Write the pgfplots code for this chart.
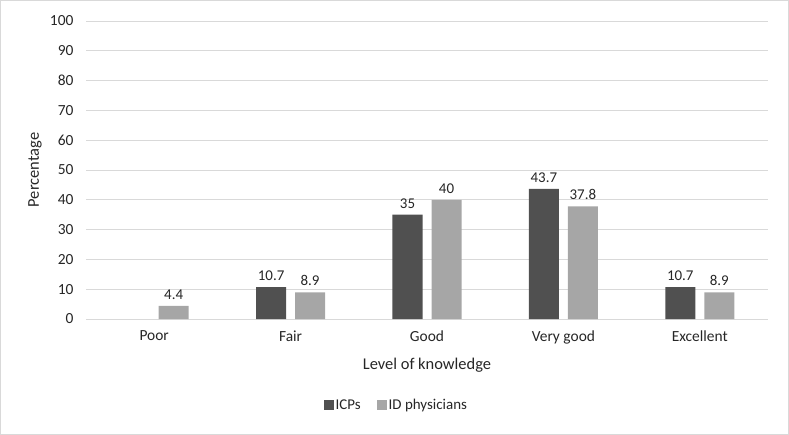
\documentclass[border=0pt]{standalone}
\usepackage{pgfplots}
\pgfplotsset{compat=1.18}
\usepackage{fontspec}
\setmainfont{Carlito}
\definecolor{darkbar}{HTML}{505050}
\definecolor{lightbar}{HTML}{A6A6A6}
\definecolor{gridc}{HTML}{D9D9D9}
\definecolor{txt}{HTML}{262626}
\begin{document}
\begin{tikzpicture}
\path[use as bounding box] (0bp,0bp) rectangle (789bp,435bp);
\draw[gridc, line width=1.2bp] (0.8bp,0.8bp) rectangle (788.2bp,434.2bp);
\begin{axis}[
  at={(86bp,116bp)}, anchor=south west,
  scale only axis, width=682bp, height=298bp,
  xmin=-0.5, xmax=4.5, ymin=0, ymax=100,
  ybar, bar width=0.22, 
  xtick={0,1,2,3,4},
  xticklabels={Poor,Fair,Good,Very good,Excellent},
  ytick={0,10,...,100},
  ymajorgrids, grid style={gridc, line width=0.9bp},
  axis line style={draw=none},
  major tick length=0,
  tick label style={font=\fontsize{15.5}{18}\selectfont, text=txt},
  /pgf/number format/assume math mode=true,
  yticklabel style={xshift=-9bp},
  xticklabel style={yshift=-8bp},
  xlabel={Level of knowledge},
  ylabel={Percentage},
  label style={font=\fontsize{16.5}{19}\selectfont, text=txt},
  xlabel style={at={(axis description cs:0.5,0)}, anchor=center, yshift=-46bp},
  ylabel style={at={(axis description cs:-0.0748,0.5)}, anchor=center},
  nodes near coords,
  every node near coord/.append style={font=\fontsize{15}{18}\selectfont, text=txt, yshift=3bp},
  legend style={at={(axis description cs:0.455,-0.29)}, anchor=center, draw=none, legend columns=2,
    font=\fontsize{15}{18}\selectfont, text=txt, /tikz/every even column/.append style={column sep=14bp}},
  legend image code/.code={\fill[#1] (0bp,-5bp) rectangle (10bp,5bp);},
]
\addplot[fill=darkbar, draw=none, bar shift=-0.143] coordinates {(1,10.7) (2,35) (3,43.7) (4,10.7)};
\addplot[fill=lightbar, draw=none, bar shift=0.143] coordinates {(0,4.4) (1,8.9) (2,40) (3,37.8) (4,8.9)};
\legend{ICPs, ID physicians}
\end{axis}
\end{tikzpicture}
\end{document}
